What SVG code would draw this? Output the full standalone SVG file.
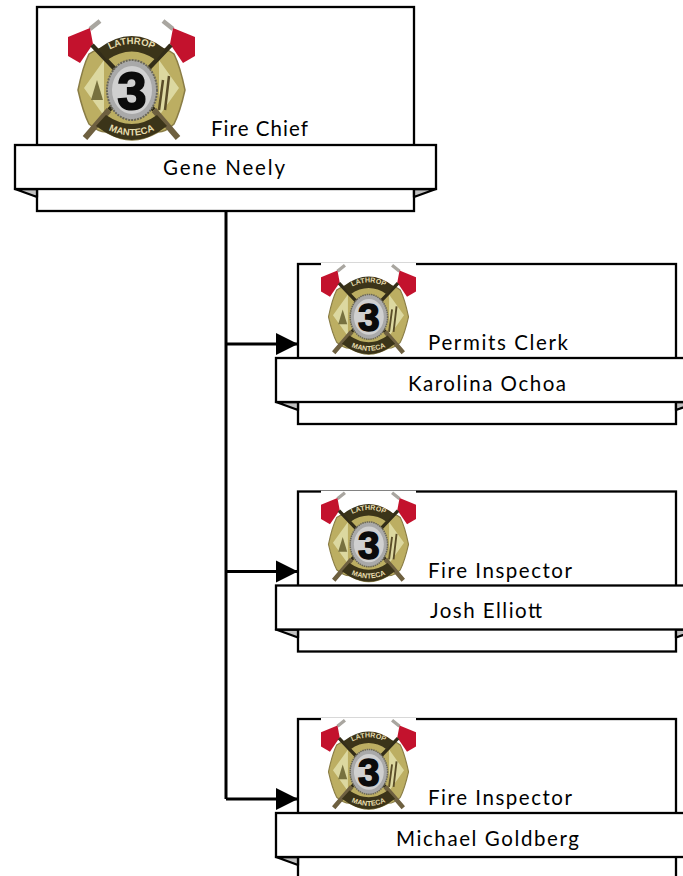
<svg xmlns="http://www.w3.org/2000/svg" width="683" height="876" viewBox="0 0 683 876">
<style>
.box{fill:#fff;stroke:#000;stroke-width:2.3}
.fold{fill:#c0c0c0;stroke:#000;stroke-width:2.3;stroke-linejoin:round}
.t{font-family:"Lato","Liberation Sans",sans-serif;font-size:20.500px;fill:#000}
.c{fill:none;stroke:#000;stroke-width:3}
.ln{font-family:"Liberation Sans",sans-serif;font-weight:bold;font-size:9.500px;fill:#e6dcae;text-anchor:middle}
</style>
<defs>
<marker id="a" markerUnits="userSpaceOnUse" markerWidth="22" markerHeight="24" refX="22" refY="12" orient="auto" viewBox="0 0 22 24"><path d="M0 1L22 12L0 23Z" fill="#000"/></marker>
<symbol id="logo" viewBox="0 0 127 127">
<rect width="127" height="127" fill="#fff"/>
<path d="M22 11L32 3M105 11L95 3" stroke="#a9a6a0" stroke-width="4.500" fill="none"/>
<path d="M0 19L22 10L25 26L12 45L0 38Z" fill="#c3122d"/>
<path d="M127 19L105 10L102 26L115 45L127 38Z" fill="#c3122d"/>
<path d="M10 72Q15 48 21 36Q30 30 38 30Q52 22 64 22Q76 22 90 30Q98 30 106 36Q112 48 117 72Q112 94 106 106Q98 114 90 114Q76 122 64 122Q52 122 38 114Q30 114 21 106Q15 94 10 72Z" fill="#bcae62" stroke="#8a7d46" stroke-width="1.500"/>
<path d="M16 70L36 42V98ZM111 70L91 42V98Z" fill="#dcd8a0"/>
<path d="M29 62L23 82H35Z" fill="#77713f"/>
<path d="M95 62L91 92M101 58L97 92" stroke="#5a4d28" stroke-width="2.500" fill="none"/>
<path d="M24 27L86 92M103 27L41 92" stroke="#332d18" stroke-width="4.500" fill="none"/>
<path d="M86 92L110 120M41 92L17 120" stroke="#6e6040" stroke-width="6" fill="none"/>
<path d="M30 31Q64 5 97 31L88 42Q64 25 39 42Z" fill="#3b3419"/>
<path d="M28 108Q64 136 99 108L89 97Q64 115 38 97Z" fill="#3b3419"/>
<ellipse cx="64" cy="72" rx="25" ry="30" fill="#a9a9a9" stroke="#6a675a" stroke-width="2" stroke-dasharray="2 1"/>
<ellipse cx="64" cy="72" rx="20" ry="24" fill="#d0d0d0"/>
<text x="64" y="91" font-family="Liberation Sans,sans-serif" font-size="52" font-weight="bold" fill="#0b0b0b" stroke="#0b0b0b" stroke-width="2" text-anchor="middle">3</text>
<path id="ta" d="M33 37Q64 15 94 37" fill="none"/>
<path id="tb" d="M33 108Q64 127 94 108" fill="none"/>
<text class="ln"><textPath href="#ta" startOffset="50%">LATHROP</textPath></text>
<text class="ln"><textPath href="#tb" startOffset="50%">MANTECA</textPath></text>
</symbol>
</defs>
<g id="connectors">
<path class="c" d="M226 211V799"/>
<path class="c" d="M226 344H298" marker-end="url(#a)"/>
<path class="c" d="M226 571.500H298" marker-end="url(#a)"/>
<path class="c" d="M226 799H298" marker-end="url(#a)"/>
</g>
<g id="node-gene-neely">
<rect class="box" x="37" y="7" width="377" height="204"/>
<path class="fold" d="M15 189L37 197V189ZM436 189L414 197V189Z"/>
<use href="#logo" x="68" y="18" width="127" height="127"/>
<rect class="box" x="15" y="145" width="421" height="44"/>
<text class="t" x="211" y="136" textLength="97" lengthAdjust="spacing">Fire Chief</text>
<text class="t" x="163" y="175" textLength="122" lengthAdjust="spacing">Gene Neely</text>
</g>
<g id="node-karolina-ochoa">
<rect class="box" x="298" y="264" width="378" height="160"/>
<path class="fold" d="M276 402L298 410V402ZM698 402L676 410V402Z"/>
<use href="#logo" x="321" y="263" width="95" height="95"/>
<rect class="box" x="276" y="358" width="422" height="44"/>
<text class="t" x="428" y="350" textLength="140" lengthAdjust="spacing">Permits Clerk</text>
<text class="t" x="408" y="391" textLength="158" lengthAdjust="spacing">Karolina Ochoa</text>
</g>
<g id="node-josh-elliott">
<rect class="box" x="298" y="491.500" width="378" height="160"/>
<path class="fold" d="M276 629.500L298 637.500V629.500ZM698 629.500L676 637.500V629.500Z"/>
<use href="#logo" x="321" y="490.500" width="95" height="95"/>
<rect class="box" x="276" y="585.500" width="422" height="44"/>
<text class="t" x="428" y="578" textLength="144" lengthAdjust="spacing">Fire Inspector</text>
<text class="t" x="430" y="618" textLength="112" lengthAdjust="spacing">Josh Elliott</text>
</g>
<g id="node-michael-goldberg">
<rect class="box" x="298" y="719" width="378" height="160"/>
<path class="fold" d="M276 857L298 865V857Z"/>
<use href="#logo" x="321" y="718" width="95" height="95"/>
<rect class="box" x="276" y="813" width="422" height="44"/>
<text class="t" x="428" y="805" textLength="144" lengthAdjust="spacing">Fire Inspector</text>
<text class="t" x="396" y="846" textLength="183" lengthAdjust="spacing">Michael Goldberg</text>
</g>
</svg>
